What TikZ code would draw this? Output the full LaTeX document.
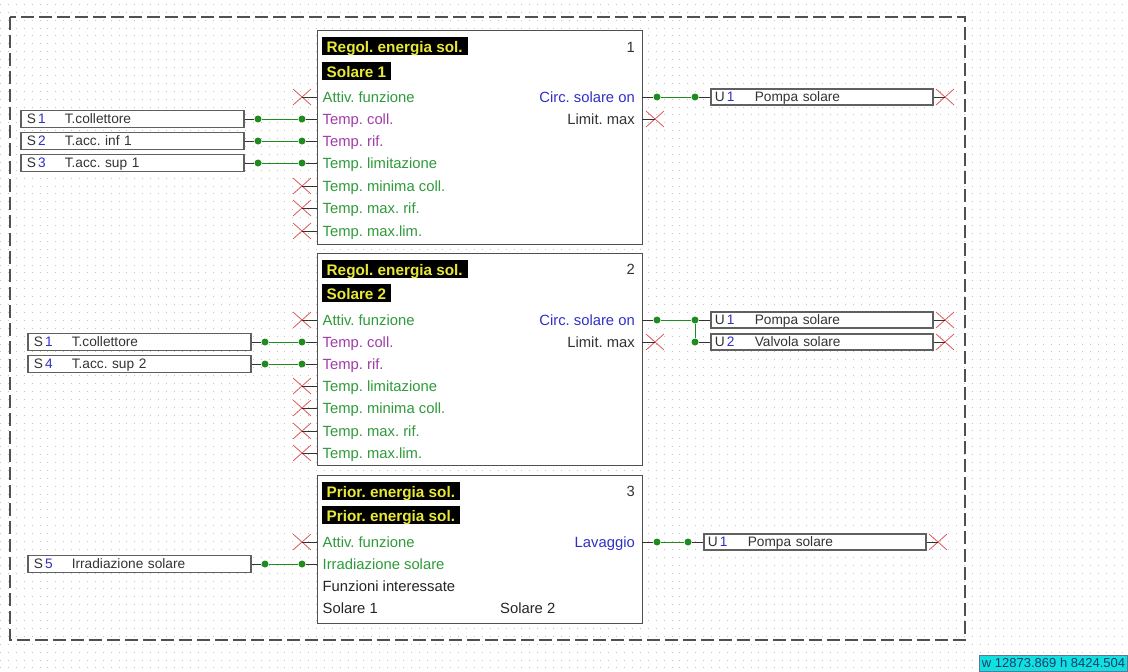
\documentclass[tikz,border=0pt]{standalone}
\usepackage{fontspec}
\setmainfont{Liberation Sans}
\usetikzlibrary{shapes.misc}
\definecolor{gridc}{HTML}{C4C4C4}
\definecolor{blockc}{HTML}{505050}
\definecolor{boxc}{HTML}{606060}
\definecolor{txtgreen}{HTML}{2E9A3A}
\definecolor{txtpurple}{HTML}{A03CA8}
\definecolor{txtblue}{HTML}{3030C8}
\definecolor{wiregreen}{HTML}{1E8C1E}
\definecolor{xred}{HTML}{E05A5A}
\definecolor{hdryellow}{HTML}{E8E836}
\definecolor{labcyan}{HTML}{10E0E0}
\definecolor{labtext}{HTML}{1A3C6E}
\definecolor{dgray}{HTML}{333333}
\newcommand{\iotagS}[2]{\makebox[38pt][l]{\textcolor{dgray}{#1}\,\textcolor{txtblue}{#2}}}
\newcommand{\iotagU}[2]{\makebox[40pt][l]{\textcolor{dgray}{#1}\,\textcolor{txtblue}{#2}}}
\begin{document}
\frenchspacing
\begin{tikzpicture}[x=1pt,y=-1pt,
  fblock/.style={draw=blockc, line width=1.2pt, fill=white, anchor=north west, inner sep=0},
  hdr/.style={fill=black, text=hdryellow, font=\bfseries\fontsize{15.3}{17}\selectfont, anchor=west, inner xsep=5pt, inner ysep=2pt, text height=13pt, text depth=1pt},
  pin/.style={anchor=west, inner sep=0, font=\fontsize{14.8}{17}\selectfont, text height=13pt, text depth=3pt},
  pinr/.style={pin, anchor=east},
  num/.style={anchor=east, inner sep=0, text=dgray, font=\fontsize{14.8}{17}\selectfont, text height=13pt, text depth=3pt},
  xmk/.style={cross out, draw=xred, line width=0.8pt, minimum width=17pt, minimum height=15pt, inner sep=0},
  gdot/.style={circle, fill=wiregreen, inner sep=0, minimum size=7pt},
  stub/.style={draw=dgray, line width=1pt},
  wire/.style={draw=wiregreen, line width=1pt},
  iobox/.style={draw=boxc, line width=1.6pt, fill=white, anchor=west, minimum height=17pt, inner ysep=0pt, align=left, text=dgray, font=\fontsize{13.7}{15}\selectfont, text height=11.5pt, text depth=2.5pt},
  sbox/.style={iobox, inner xsep=6pt, text width=211pt},
  ubox/.style={iobox, inner xsep=4pt, text width=214pt, minimum height=16pt},
  outline/.style={draw=blockc, line width=1.3pt, dash pattern=on 13pt off 5pt}
]
\useasboundingbox (0,0) rectangle (1128,672);
\fill[white] (0,0) rectangle (1128,672);
% dot grid
\foreach \k in {0,...,85}
  \draw[gridc, line width=1pt, dash pattern=on 1pt off 6.9pt] (0,{4.3+7.9*\k}) -- (1128,{4.3+7.9*\k});
% outer dashed frame
\draw[outline] (10,17) rectangle (965,640);

% ================= Block 1 =================
\node[fblock, minimum width=325pt, minimum height=214pt] (b1) at (317,30) {};
\node[hdr] (b1h1) at (321.5,46.3) {Regol. energia sol.};
\node[hdr] (b1h2) at (321.5,71) {Solare 1};
\node[num] (b1n) at (635,47) {1};
\node[pin, text=txtgreen] (b1t1) at (322.5,97) {Attiv. funzione};
\node[pin, text=txtpurple] (b1t2) at (322.5,119) {Temp. coll.};
\node[pin, text=txtpurple] (b1t3) at (322.5,141) {Temp. rif.};
\node[pin, text=txtgreen] (b1t4) at (322.5,163) {Temp. limitazione};
\node[pin, text=txtgreen] (b1t5) at (322.5,186) {Temp. minima coll.};
\node[pin, text=txtgreen] (b1t6) at (322.5,208) {Temp. max. rif.};
\node[pin, text=txtgreen] (b1t7) at (322.5,231) {Temp. max.lim.};
\foreach \n/\y in {1/97,5/186,6/208,7/231}{
  \coordinate (b1p\n) at (317,\y);
  \node[xmk] (b1x\n) at (302,\y) {};
  \draw[stub] (b1x\n.center) -- (b1p\n);
}
\node[sbox] (s11) at (20,119) {\iotagS{S}{1}T.collettore};
\node[sbox] (s12) at (20,141) {\iotagS{S}{2}T.acc. inf 1};
\node[sbox] (s13) at (20,163) {\iotagS{S}{3}T.acc. sup 1};
\foreach \n/\y/\s in {2/119/s11,3/141/s12,4/163/s13}{
  \coordinate (b1p\n) at (317,\y);
  \node[gdot] (b1d\n a) at (258,\y) {};
  \node[gdot] (b1d\n b) at (302,\y) {};
  \draw[stub] (\s.east) -- (b1d\n a);
  \draw[wire] (b1d\n a) -- (b1d\n b);
  \draw[stub] (b1d\n b) -- (b1p\n);
}
% outputs block 1
\node[pinr, text=txtblue] (b1o1) at (635,97) {Circ. solare on};
\node[pinr, text=dgray] (b1o2) at (635,119) {Limit. max};
\coordinate (b1q1) at (642,97);
\coordinate (b1q2) at (642,119);
\node[gdot] (b1e1a) at (657,97) {};
\node[gdot] (b1e1b) at (695,97) {};
\node[ubox] (u11) at (710,97) {\iotagU{U}{1}Pompa solare};
\draw[stub] (b1q1) -- (b1e1a);
\draw[wire] (b1e1a) -- (b1e1b);
\draw[stub] (b1e1b) -- (u11.west);
\node[xmk] (u11x) at (945,97) {};
\draw[stub] (u11.east) -- (u11x.center);
\node[xmk] (b1x8) at (655,119) {};
\draw[stub] (b1q2) -- (b1x8.center);

% ================= Block 2 =================
\node[fblock, minimum width=325pt, minimum height=212pt] (b2) at (317,253) {};
\node[hdr] (b2h1) at (321.5,269) {Regol. energia sol.};
\node[hdr] (b2h2) at (321.5,293) {Solare 2};
\node[num] (b2n) at (635,269) {2};
\node[pin, text=txtgreen] (b2t1) at (322.5,320) {Attiv. funzione};
\node[pin, text=txtpurple] (b2t2) at (322.5,342) {Temp. coll.};
\node[pin, text=txtpurple] (b2t3) at (322.5,364) {Temp. rif.};
\node[pin, text=txtgreen] (b2t4) at (322.5,386) {Temp. limitazione};
\node[pin, text=txtgreen] (b2t5) at (322.5,408) {Temp. minima coll.};
\node[pin, text=txtgreen] (b2t6) at (322.5,431) {Temp. max. rif.};
\node[pin, text=txtgreen] (b2t7) at (322.5,453) {Temp. max.lim.};
\foreach \n/\y in {1/320,4/386,5/408,6/431,7/453}{
  \coordinate (b2p\n) at (317,\y);
  \node[xmk] (b2x\n) at (302,\y) {};
  \draw[stub] (b2x\n.center) -- (b2p\n);
}
\node[sbox] (s21) at (27,342) {\iotagS{S}{1}T.collettore};
\node[sbox] (s24) at (27,364) {\iotagS{S}{4}T.acc. sup 2};
\foreach \n/\y/\s in {2/342/s21,3/364/s24}{
  \coordinate (b2p\n) at (317,\y);
  \node[gdot] (b2d\n a) at (265,\y) {};
  \node[gdot] (b2d\n b) at (302,\y) {};
  \draw[stub] (\s.east) -- (b2d\n a);
  \draw[wire] (b2d\n a) -- (b2d\n b);
  \draw[stub] (b2d\n b) -- (b2p\n);
}
% outputs block 2
\node[pinr, text=txtblue] (b2o1) at (635,320) {Circ. solare on};
\node[pinr, text=dgray] (b2o2) at (635,342) {Limit. max};
\coordinate (b2q1) at (642,320);
\coordinate (b2q2) at (642,342);
\node[gdot] (b2e1a) at (657,320) {};
\node[gdot] (b2e1b) at (695,320) {};
\node[gdot] (b2e1c) at (695,342) {};
\node[ubox] (u21) at (710,320) {\iotagU{U}{1}Pompa solare};
\node[ubox] (u22) at (710,342) {\iotagU{U}{2}Valvola solare};
\draw[stub] (b2q1) -- (b2e1a);
\draw[wire] (b2e1a) -- (b2e1b);
\draw[wire] (b2e1b) -- (b2e1c);
\draw[stub] (b2e1b) -- (u21.west);
\draw[stub] (b2e1c) -- (u22.west);
\node[xmk] (u21x) at (945,320) {};
\node[xmk] (u22x) at (945,342) {};
\draw[stub] (u21.east) -- (u21x.center);
\draw[stub] (u22.east) -- (u22x.center);
\node[xmk] (b2x8) at (655,342) {};
\draw[stub] (b2q2) -- (b2x8.center);

% ================= Block 3 =================
\node[fblock, minimum width=325pt, minimum height=148pt] (b3) at (317,475) {};
\node[hdr] (b3h1) at (321.5,491) {Prior. energia sol.};
\node[hdr] (b3h2) at (321.5,515) {Prior. energia sol.};
\node[num] (b3n) at (635,491) {3};
\node[pin, text=txtgreen] (b3t1) at (322.5,542) {Attiv. funzione};
\node[pin, text=txtgreen] (b3t2) at (322.5,564) {Irradiazione solare};
\node[pin, text=black!85] (b3t3) at (322.5,586) {Funzioni interessate};
\node[pin, text=black!85] (b3t4) at (322.5,608) {Solare 1};
\node[pin, text=black!85] (b3t5) at (500,608) {Solare 2};
\coordinate (b3p1) at (317,542);
\node[xmk] (b3x1) at (302,542) {};
\draw[stub] (b3x1.center) -- (b3p1);
\node[sbox] (s35) at (27,564) {\iotagS{S}{5}Irradiazione solare};
\coordinate (b3p2) at (317,564);
\node[gdot] (b3d2a) at (265,564) {};
\node[gdot] (b3d2b) at (302,564) {};
\draw[stub] (s35.east) -- (b3d2a);
\draw[wire] (b3d2a) -- (b3d2b);
\draw[stub] (b3d2b) -- (b3p2);
% output block 3
\node[pinr, text=txtblue] (b3o1) at (635,542) {Lavaggio};
\coordinate (b3q1) at (642,542);
\node[gdot] (b3e1a) at (657,542) {};
\node[gdot] (b3e1b) at (688,542) {};
\node[ubox] (u31) at (703,542) {\iotagU{U}{1}Pompa solare};
\draw[stub] (b3q1) -- (b3e1a);
\draw[wire] (b3e1a) -- (b3e1b);
\draw[stub] (b3e1b) -- (u31.west);
\node[xmk] (u31x) at (938,542) {};
\draw[stub] (u31.east) -- (u31x.center);

% dimension label
\node[anchor=south east, fill=labcyan, draw=labtext!70, line width=0.8pt, text=labtext,
      font=\fontsize{13}{15}\selectfont, inner xsep=2.5pt, inner ysep=0pt, minimum height=16pt,
      text height=10pt, text depth=3pt] (dim) at (1128,672) {w 12873.869 h 8424.504};
\end{tikzpicture}
\end{document}
